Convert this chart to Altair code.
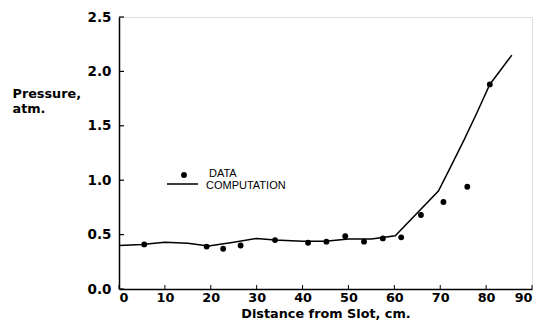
import altair as alt
import pandas as pd

# Measured pressures along the channel
dist_data = [5.5, 19.1, 22.7, 26.5, 34.0, 41.2, 45.2, 49.3, 53.4, 57.5, 61.5, 65.8, 70.7, 75.9, 80.8]
pres_data = [0.41, 0.39, 0.37, 0.40, 0.45, 0.425, 0.435, 0.485, 0.435, 0.465, 0.475, 0.68, 0.80, 0.94, 1.88]

# Computed pressure curve
dist_comp = [0, 5, 10, 15, 19.5, 25, 30, 34, 40, 45, 50, 55, 60.2, 69.6, 72, 75.2, 78, 80.8, 85.6]
pres_comp = [0.40, 0.41, 0.43, 0.42, 0.395, 0.43, 0.465, 0.45, 0.44, 0.44, 0.46, 0.46, 0.49,
             0.90, 1.10, 1.37, 1.62, 1.88, 2.15]

x_ticks = [0, 10, 20, 30, 40, 50, 60, 70, 80, 90]
y_ticks = [0.0, 0.5, 1.0, 1.5, 2.0, 2.5]

W, H = 413, 272
FONT = "DejaVu Sans"

data_df = pd.DataFrame({"dist": dist_data, "pres": pres_data})
comp_df = pd.DataFrame({"dist": dist_comp, "pres": pres_comp})
xt_df = pd.DataFrame({"v": x_ticks})
yt_df = pd.DataFrame({"v": y_ticks})

xscale = alt.Scale(domain=[0, 90], nice=False, zero=False)
yscale = alt.Scale(domain=[0, 2.5], nice=False, zero=False)

x_axis = alt.Axis(
    values=x_ticks, ticks=False, grid=False, domainColor="black", domainWidth=1.5,
    labelFont=FONT, labelFontSize=12.8, labelFontWeight="bold", labelColor="black",
    labelPadding=2, title="Distance from Slot, cm.", titleFont=FONT, titleFontSize=12.8,
    titleFontWeight="bold", titleColor="black", titleBaseline="alphabetic", titleY=28,
)
y_axis = alt.Axis(
    values=y_ticks, format=".1f", ticks=False, grid=False, domainColor="black",
    domainWidth=1.5, labelFont=FONT, labelFontSize=13.5, labelFontWeight="bold",
    labelColor="black", labelPadding=8, title=["Pressure,", "atm."], titleFont=FONT,
    titleFontSize=12.8, titleFontWeight="bold", titleColor="black", titleAngle=0,
    titleAlign="left", titleBaseline="alphabetic", titleX=-107, titleY=80,
    titleLineHeight=15,
)

line = alt.Chart(comp_df).mark_line(color="black", strokeWidth=1.5).encode(
    x=alt.X("dist:Q", scale=xscale, axis=x_axis),
    y=alt.Y("pres:Q", scale=yscale, axis=y_axis),
)

points = alt.Chart(data_df).mark_point(
    filled=True, color="black", size=34, opacity=1
).encode(
    x=alt.X("dist:Q", scale=xscale),
    y=alt.Y("pres:Q", scale=yscale),
)

# Inward-pointing tick marks on both axes
x_tick_marks = alt.Chart(xt_df).mark_rule(color="black", strokeWidth=1).encode(
    x=alt.X("v:Q", scale=xscale),
    y=alt.value(H),
    y2=alt.value(H - 4),
)
y_tick_marks = alt.Chart(yt_df).mark_rule(color="black", strokeWidth=1.2).encode(
    y=alt.Y("v:Q", scale=yscale),
    x=alt.value(0),
    x2=alt.value(5),
)

# Key
key_df = pd.DataFrame({"k": [0]})
key_dot = alt.Chart(key_df).mark_point(filled=True, color="black", size=34, opacity=1).encode(
    x=alt.value(65), y=alt.value(158)
)
key_line = alt.Chart(key_df).mark_rule(color="black", strokeWidth=1.5).encode(
    x=alt.value(48), x2=alt.value(79), y=alt.value(167)
)
key_data = alt.Chart(key_df).mark_text(
    text="DATA", align="left", baseline="alphabetic", font="Liberation Sans",
    fontSize=11, color="black"
).encode(x=alt.value(90), y=alt.value(160))
key_comp = alt.Chart(key_df).mark_text(
    text="COMPUTATION", align="left", baseline="alphabetic", font="Liberation Sans",
    fontSize=11, color="black"
).encode(x=alt.value(87), y=alt.value(172))

chart = alt.layer(
    line, points, x_tick_marks, y_tick_marks, key_dot, key_line, key_data, key_comp
).properties(
    width=W, height=H,
    autosize=alt.AutoSizeParams(type="none"),
    padding={"left": 119, "top": 17, "right": 6, "bottom": 31},
).configure_view(stroke=None).configure(background="white")

chart.save("out.html", embed_options={"renderer": "svg", "actions": False})
